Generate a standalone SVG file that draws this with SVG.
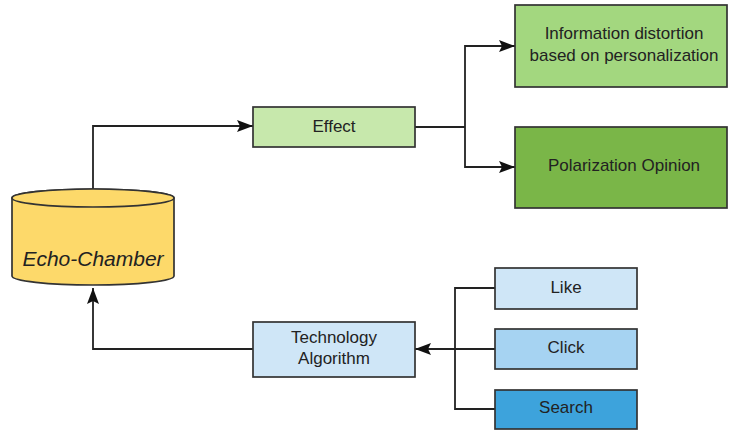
<svg xmlns="http://www.w3.org/2000/svg" width="730" height="430" viewBox="0 0 730 430">
<defs>
<marker id="arr" viewBox="0 0 16 12" refX="16" refY="6" markerWidth="16" markerHeight="12" markerUnits="userSpaceOnUse" orient="auto">
<path d="M0,0 L16,6 L0,12 L3,6 Z" fill="#111"/>
</marker>
<style>
.box{stroke:#333;stroke-width:1.7}
.t{font-family:"Liberation Sans",Arial,sans-serif;font-size:17px;fill:#222;text-anchor:middle;dominant-baseline:central}
.c{fill:none;stroke:#222;stroke-width:1.8}
</style>
</defs>
<rect width="730" height="430" fill="#fff"/>
<g id="connectors">
<path class="c" d="M93,189 V126 H253" marker-end="url(#arr)"/>
<path class="c" d="M415,127 H465"/>
<path class="c" d="M465,127 V46 H515" marker-end="url(#arr)"/>
<path class="c" d="M465,127 V167 H515" marker-end="url(#arr)"/>
<path class="c" d="M495,288 H455 V409 H495"/>
<path class="c" d="M495,349 H415" marker-end="url(#arr)"/>
<path class="c" d="M253,349 H93 V288" marker-end="url(#arr)"/>
</g>
<g id="echo-chamber">
<path class="box" fill="#fdd96a" d="M12,198 V276 A81,9 0 0 0 174,276 V198 A81,9 0 0 0 12,198 Z"/>
<ellipse class="box" fill="#fdd96a" cx="93" cy="198" rx="81" ry="9"/>
<text class="t" x="93" y="258" style="font-size:21px;font-style:italic">Echo-Chamber</text>
</g>
<g id="effect">
<rect class="box" x="253" y="107" width="162" height="40" fill="#c7e8ac"/>
<text class="t" x="334" y="126">Effect</text>
</g>
<g id="info">
<rect class="box" x="515" y="5" width="212" height="82" fill="#a3d77f"/>
<text class="t" x="624" y="33">Information distortion</text>
<text class="t" x="624" y="55">based on personalization</text>
</g>
<g id="polarization">
<rect class="box" x="515" y="127" width="212" height="81" fill="#7ab648"/>
<text class="t" x="624" y="165">Polarization Opinion</text>
</g>
<g id="tech">
<rect class="box" x="253" y="322" width="162" height="55" fill="#cfe6f7"/>
<text class="t" x="334" y="337">Technology</text>
<text class="t" x="334" y="358">Algorithm</text>
</g>
<g id="like">
<rect class="box" x="495" y="268" width="142" height="41" fill="#cfe6f7"/>
<text class="t" x="566" y="287">Like</text>
</g>
<g id="click">
<rect class="box" x="495" y="329" width="142" height="40" fill="#a6d3f2"/>
<text class="t" x="566" y="347">Click</text>
</g>
<g id="search">
<rect class="box" x="495" y="390" width="142" height="39" fill="#3da3dc"/>
<text class="t" x="566" y="407">Search</text>
</g>
</svg>
